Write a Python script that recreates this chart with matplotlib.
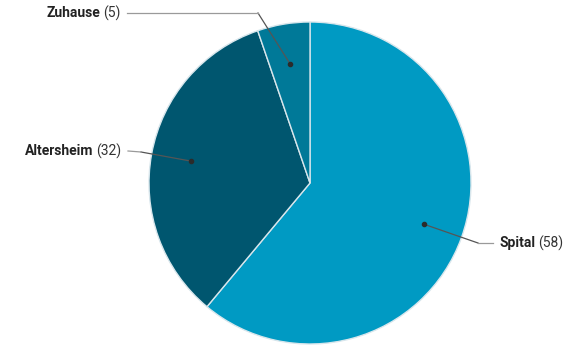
import numpy as np
from matplotlib import pyplot as plt

# data
labels = ['Spital', 'Altersheim', 'Zuhause']
counts = [58, 32, 5]
colors = ['#009ac3', '#00566f', '#007998']

W, H = 582, 359
CX, CY, R = 310, 183, 161


def to_data(px, py):
    """Pixel position (from top left) -> pie data coordinates."""
    return (px - CX) / R, (CY - py) / R


def plot_figure(filename):
    fig = plt.figure(figsize=(W / 100, H / 100), dpi=100)
    ax = fig.add_axes([(CX - R) / W, (H - CY - R) / H, 2 * R / W, 2 * R / H])

    wedges, _ = ax.pie(counts, colors=colors, startangle=90, counterclock=False,
                       radius=1, wedgeprops=dict(edgecolor='#d8e6ec', linewidth=1.0))
    ax.set_xlim(-1, 1)
    ax.set_ylim(-1, 1)
    ax.set_aspect('auto')
    ax.axis('off')

    # label layout: (elbow, line end near text, text anchor, side)
    layout = {
        'Zuhause': (to_data(258, 13), to_data(127, 13), to_data(121, 13), 'right'),
        'Altersheim': (to_data(141, 152), to_data(128, 151), to_data(121, 151), 'right'),
        'Spital': (to_data(478, 243), to_data(493, 243), to_data(499, 243), 'left'),
    }

    fig.canvas.draw()
    renderer = fig.canvas.get_renderer()
    for w, name, n in zip(wedges, labels, counts):
        mid = np.deg2rad((w.theta1 + w.theta2) / 2)
        dx, dy = 0.75 * np.cos(mid), 0.75 * np.sin(mid)
        elbow, end, anchor, side = layout[name]
        ax.plot([dx, elbow[0]], [dy, elbow[1]], color='#555555', lw=0.9, clip_on=False)
        ax.plot([elbow[0], end[0]], [elbow[1], end[1]], color='#9a9a9a', lw=0.9, clip_on=False)
        ax.plot(dx, dy, 'o', color='#2b2b2b', ms=3, clip_on=False)

        count_txt = f'({n})'
        if side == 'right':
            t = ax.text(anchor[0], anchor[1], count_txt, ha='right', va='center',
                        fontsize=10, family='Roboto', color='#333333')
            bb = t.get_window_extent(renderer)
            x0 = ax.transData.inverted().transform((bb.x0 - 3, 0))[0]
            ax.text(x0, anchor[1], name, ha='right', va='center', fontsize=10,
                    family='Roboto', fontweight='bold', color='#222222')
        else:
            t = ax.text(anchor[0], anchor[1], name, ha='left', va='center', fontsize=10,
                        family='Roboto', fontweight='bold', color='#222222')
            bb = t.get_window_extent(renderer)
            x1 = ax.transData.inverted().transform((bb.x1 + 3, 0))[0]
            ax.text(x1, anchor[1], count_txt, ha='left', va='center',
                    fontsize=10, family='Roboto', color='#333333')

    plt.savefig(filename, dpi=100)
    plt.close(fig)


if __name__ == '__main__':
    plot_figure('out.png')
